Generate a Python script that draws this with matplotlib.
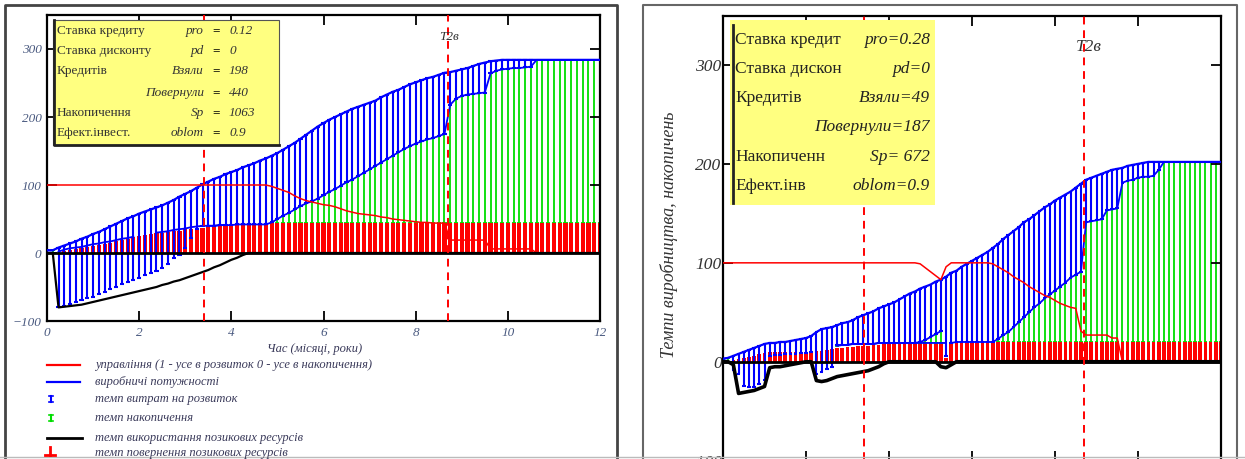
import numpy as np
import matplotlib
matplotlib.use("Agg")
import matplotlib.pyplot as plt
from matplotlib.patches import Rectangle
from matplotlib.lines import Line2D
from matplotlib.collections import LineCollection

plt.rcParams['font.family'] = ['Liberation Serif', 'DejaVu Serif']

W, H = 1245, 459

# time grid (step 1/8 of a unit), 0..12
t = np.arange(97) * 0.125
marks = [3.4, 8.7]
mark_label = "T2в"

# ---------------- left panel ----------------
u_left = [100, 100, 100, 100, 100, 100, 100, 100, 100, 100, 100, 100,
          100, 100, 100, 100, 100, 100, 100, 100, 100, 100, 100, 100,
          100, 100, 100, 100, 100, 100, 100, 100, 100, 100, 100, 100,
          100, 100, 100, 98, 95, 92, 89, 84, 80, 77, 75, 73,
          71, 70, 68, 65, 62, 60, 58, 57, 56, 55, 53, 52,
          50, 49, 48, 47, 46, 45, 45, 44, 44, 44, 19, 19,
          19, 19, 19, 19, 19, 6, 6, 6, 6, 6, 6, 6,
          6, 0, 0, 0, 0, 0, 0, 0, 0, 0, 0, 0,
          0]
cap_left = [4, 4, 8, 11, 14, 17, 21, 24, 28, 31, 35, 39,
            43, 47, 51, 54, 58, 61, 64, 67, 70, 74, 78, 83,
            87, 91, 96, 101, 105, 109, 112, 116, 119, 122, 126, 129,
            132, 136, 139, 143, 147, 152, 157, 162, 168, 174, 180, 186,
            191, 196, 200, 204, 208, 212, 215, 218, 221, 224, 229, 233,
            237, 240, 244, 248, 251, 254, 257, 259, 262, 265, 266, 268,
            270, 272, 275, 278, 280, 282, 283, 284, 284, 284, 284, 284,
            284, 284, 284, 284, 284, 284, 284, 284, 284, 284, 284, 284,
            284]
dev_left = [4, 4, -80, -78, -75, -72, -69, -66, -64, -61, -57, -53,
            -50, -46, -42, -39, -37, -33, -30, -26, -22, -16, -8, -3,
            8, 22, 36, 39, 40, 40, 41, 41, 41, 42, 42, 42,
            42, 42, 42, 45, 50, 55, 59, 64, 69, 73, 76, 80,
            85, 90, 94, 99, 104, 108, 113, 118, 123, 128, 133, 138,
            143, 148, 153, 157, 161, 164, 167, 169, 172, 175, 218, 227,
            231, 233, 234, 235, 236, 264, 268, 270, 271, 272, 272, 273,
            274, 284, 284, 284, 284, 284, 284, 284, 284, 284, 284, 284,
            284]
acc_left = [0, 0, 2, 5, 7, 8, 9, 11, 13, 14, 16, 17,
            19, 21, 22, 24, 25, 27, 28, 30, 31, 32, 34, 35,
            36, 38, 39, 40, 40, 40, 41, 41, 41, 42, 42, 42,
            42, 42, 42, 44, 44, 44, 44, 44, 44, 44, 44, 44,
            44, 44, 44, 44, 44, 44, 44, 44, 44, 44, 44, 44,
            44, 44, 44, 44, 44, 44, 44, 44, 44, 44, 44, 44,
            44, 44, 44, 44, 44, 44, 44, 44, 44, 44, 44, 44,
            44, 44, 44, 44, 44, 44, 44, 44, 44, 44, 44, 44,
            44]
borrow_left = [0, 0, -80, -79, -78, -77, -76, -74, -72, -70, -68, -66,
               -64, -62, -60, -58, -56, -54, -52, -50, -47, -45, -42, -40,
               -37, -34, -31, -28, -25, -21, -18, -14, -10, -7, -3, 0,
               0, 0, 0, 0, 0, 0, 0, 0, 0, 0, 0, 0,
               0, 0, 0, 0, 0, 0, 0, 0, 0, 0, 0, 0,
               0, 0, 0, 0, 0, 0, 0, 0, 0, 0, 0, 0,
               0, 0, 0, 0, 0, 0, 0, 0, 0, 0, 0, 0,
               0, 0, 0, 0, 0, 0, 0, 0, 0, 0, 0, 0,
               0]
repay_left = [0, 0, 0, 3, 5, 6, 7, 9, 10, 12, 13, 15,
              17, 19, 21, 23, 25, 26, 28, 29, 30, 31, 32, 33,
              35, 36, 37, 37, 38, 38, 39, 40, 41, 42, 43, 44,
              44, 44, 44, 44, 44, 44, 44, 44, 44, 44, 44, 44,
              44, 44, 44, 44, 44, 44, 44, 44, 44, 44, 44, 44,
              44, 44, 44, 44, 44, 44, 44, 44, 44, 44, 44, 44,
              44, 44, 44, 44, 44, 44, 44, 44, 44, 44, 44, 44,
              44, 44, 44, 44, 44, 44, 44, 44, 44, 44, 44, 44,
              44]

# ---------------- right panel ----------------
u_right = [100, 100, 100, 100, 100, 100, 100, 100, 100, 100, 100, 100,
           100, 100, 100, 100, 100, 100, 100, 100, 100, 100, 100, 100,
           100, 100, 100, 100, 100, 100, 100, 100, 100, 100, 100, 100,
           100, 100, 99, 95, 91, 87, 83, 96, 100, 100, 100, 100,
           100, 100, 100, 100, 99, 96, 93, 90, 86, 83, 80, 76,
           73, 70, 67, 65, 62, 59, 57, 55, 54, 31, 27, 27,
           27, 27, 27, 24, 24, 0, 0, 0, 0, 0, 0, 0,
           0, 0, 0, 0, 0, 0, 0, 0, 0, 0, 0, 0,
           0]
cap_right = [3, 4, 6, 8, 10, 12, 14, 16, 18, 19, 19, 20,
             20, 21, 22, 23, 24, 26, 30, 33, 34, 35, 37, 39,
             40, 42, 45, 47, 49, 51, 54, 56, 58, 60, 63, 66,
             69, 71, 74, 76, 78, 81, 83, 86, 90, 92, 96, 99,
             102, 105, 108, 111, 115, 119, 124, 128, 132, 136, 141, 144,
             148, 152, 156, 159, 163, 166, 169, 172, 176, 180, 184, 186,
             188, 190, 192, 194, 195, 196, 198, 199, 200, 201, 202, 202,
             202, 202, 202, 202, 202, 202, 202, 202, 202, 202, 202, 202,
             202]
dev_right = [3, 4, -8, -12, -24, -25, -25, -22, -18, 6, 7, 7,
             8, 8, 8, 9, 9, 10, -12, -10, -7, -5, 17, 17,
             17, 18, 18, 18, 18, 18, 19, 19, 19, 19, 19, 19,
             19, 19, 20, 22, 25, 28, 31, 6, 19, 20, 20, 20,
             20, 20, 20, 20, 20, 23, 27, 30, 35, 40, 45, 50,
             55, 59, 64, 68, 72, 76, 80, 85, 88, 91, 141, 142,
             143, 144, 153, 154, 155, 181, 183, 184, 186, 187, 187, 188,
             194, 202, 202, 202, 202, 202, 202, 202, 202, 202, 202, 202,
             202]
acc_right = [0, 0, 2, 3, 4, 5, 6, 8, 9, 10, 10, 10,
             10, 10, 10, 10, 10, 10, 11, 11, 12, 13, 16, 17,
             17, 18, 18, 18, 18, 18, 19, 19, 19, 19, 19, 19,
             19, 19, 19, 19, 19, 19, 19, 19, 19, 20, 20, 20,
             20, 20, 20, 20, 20, 20, 20, 20, 20, 20, 20, 20,
             20, 20, 20, 20, 20, 20, 20, 20, 20, 20, 20, 20,
             20, 20, 20, 20, 20, 20, 20, 20, 20, 20, 20, 20,
             20, 20, 20, 20, 20, 20, 20, 20, 20, 20, 20, 20,
             20]
borrow_right = [0, 0, -3, -32, -31, -30, -29, -27, -25, -6, -5, -5,
                -4, -3, -2, -1, 0, 0, -19, -20, -19, -17, -15, -14,
                -13, -12, -11, -10, -9, -7, -5, -2, 0, 0, 0, 0,
                0, 0, 0, 0, 0, 0, -5, -6, -3, 0, 0, 0,
                0, 0, 0, 0, 0, 0, 0, 0, 0, 0, 0, 0,
                0, 0, 0, 0, 0, 0, 0, 0, 0, 0, 0, 0,
                0, 0, 0, 0, 0, 0, 0, 0, 0, 0, 0, 0,
                0, 0, 0, 0, 0, 0, 0, 0, 0, 0, 0, 0,
                0]
repay_right = [0, 0, 2, 3, 4, 5, 6, 8, 9, 10, 10, 10,
               10, 10, 10, 10, 10, 10, 11, 11, 12, 13, 14, 14,
               15, 15, 16, 16, 16, 17, 17, 18, 18, 18, 18, 18,
               18, 18, 18, 18, 18, 18, 18, 4, 19, 20, 20, 20,
               20, 20, 20, 20, 20, 20, 20, 20, 20, 20, 20, 20,
               20, 20, 20, 20, 20, 20, 20, 20, 20, 20, 20, 20,
               20, 20, 20, 20, 20, 20, 20, 20, 20, 20, 20, 20,
               20, 20, 20, 20, 20, 20, 20, 20, 20, 20, 20, 20,
               20]

box_left = [("Ставка кредиту", "pro", "0.12"),
            ("Ставка дисконту", "pd", "0"),
            ("Кредитів", "Взяли", "198"),
            ("", "Повернули", "440"),
            ("Накопичення", "Sp", "1063"),
            ("Ефект.інвест.", "oblom", "0.9")]
box_right = [("Ставка кредит", "pro=0.28"),
             ("Ставка дискон", "pd=0"),
             ("Кредитів", "Взяли=49"),
             ("", "Повернули=187"),
             ("Накопиченн", "Sp= 672"),
             ("Ефект.інв", "oblom=0.9")]

legend_items = ["управління (1 - усе в розвиток 0 - усе в накопичення)",
                "виробничі потужності",
                "темп витрат на розвиток",
                "темп накопичення",
                "темп використання позикових ресурсів",
                "темп повернення позикових ресурсів"]

RED, BLUE, GREEN = "#ff0000", "#0000ff", "#00dd00"

fig = plt.figure(figsize=(W / 100, H / 100), dpi=100)


def fx(px):
    return px / W


def fy(py):
    return 1 - py / H


def ftext(px, py, s, **kw):
    fig.text(fx(px), fy(py), s, **kw)


def fline(xs, ys, **kw):
    fig.add_artist(Line2D([fx(v) for v in xs], [fy(v) for v in ys], **kw))


def stems(ax, top, bottom, color, z, cap=0.045, lw=1.4):
    segs = []
    for xi, a, b in zip(t, top, bottom):
        if a - b > 0.5:
            segs.append([(xi, b), (xi, a)])
            segs.append([(xi - cap, a), (xi + cap, a)])
            segs.append([(xi - cap, b), (xi + cap, b)])
    ax.add_collection(LineCollection(segs, colors=color, linewidths=lw, zorder=z))


def panel(rect, u, cap, dev, acc, borrow, repay, fs, blw, tcol, pad, xlabels=True):
    ax = fig.add_axes(rect)
    ax.set_xlim(0, 12)
    ax.set_ylim(-100, 350)
    dev_a, acc_a, rep_a = np.array(dev, float), np.array(acc, float), np.array(repay, float)
    stems(ax, dev, acc, GREEN, 1, lw=1.3)
    # bottom of the green bars, only where it rises above the red bars
    ax.plot(t, np.where(acc_a > rep_a + 0.5, acc_a, np.nan), color=BLUE, lw=1.3, zorder=2.5)
    ax.bar(t, repay, width=0.09, color=RED, linewidth=0, zorder=2)
    stems(ax, cap, dev, BLUE, 3, lw=1.5)
    # lower edge of the blue bars where it sits on the green ones
    ax.plot(t, np.where(dev_a >= acc_a, dev_a, np.nan), color=BLUE, lw=1.3, zorder=3)
    ax.plot(t, cap, color=BLUE, lw=1.6, zorder=4)
    ax.plot(t, u, color=RED, lw=1.1, zorder=4)
    ax.axhline(0, color="black", lw=2, zorder=4.5)
    ax.plot(t, borrow, color="black", lw=blw, zorder=5)
    for m in marks:
        ax.axvline(m, color=RED, lw=1.4, ls=(0, (4, 3)), zorder=6)
    ax.text(8.5, 318, mark_label, fontsize=fs, style="italic", color="#333333",
            va="center", ha="left", zorder=7)
    ax.set_xticks([0, 2, 4, 6, 8, 10, 12])
    ax.set_yticks([-100, 0, 100, 200, 300])
    ax.tick_params(direction="in", top=True, right=True, length=7, width=1.3,
                   labelsize=fs, labelcolor=tcol, pad=pad, labelbottom=xlabels)
    for lab in ax.get_xticklabels() + ax.get_yticklabels():
        lab.set_fontstyle("italic")
    for sp in ax.spines.values():
        sp.set_linewidth(1.6)
    return ax


# left chart
panel([fx(47), fy(321), (600 - 47) / W, (321 - 15) / H],
      u_left, cap_left, dev_left, acc_left, borrow_left, repay_left,
      9.5, 1.6, "#4a5a80", 4)

# right chart (its bottom edge falls just outside the picture)
panel([fx(723), fy(460.7), (1221 - 723) / W, (460.7 - 15.5) / H],
      u_right, cap_right, dev_right, acc_right, borrow_right, repay_right,
      12.5, 2.6, "#333333", 1, xlabels=False)

# outer frames
fline([5, 5, 617, 617], [459, 5, 5, 459], color="#444444", lw=2)
fline([643, 643, 1237, 1237], [459, 5, 5, 459], color="#666666", lw=1.5)
fline([0, 1245], [457, 457], color="#bbbbbb", lw=1)

# left text box
fig.add_artist(Rectangle((fx(53), fy(145)), (279 - 53) / W, (145 - 20) / H,
                         transform=fig.transFigure, facecolor="#ffff80",
                         edgecolor="#555555", lw=0.8, zorder=10))
fline([54, 54, 279], [20, 145, 145], color="#222222", lw=2, zorder=11)
rows_y = [31, 51, 71, 93, 113, 133]
for (lab, var, val), py in zip(box_left, rows_y):
    ftext(57, py, lab, fontsize=9.5, color="#333333", va="center", zorder=12)
    ftext(204, py, var, fontsize=9.5, style="italic", color="#333333",
          va="center", ha="right", zorder=12)
    ftext(216, py, "=", fontsize=9.5, weight="bold", color="black",
          va="center", ha="center", zorder=12)
    ftext(229, py, val, fontsize=9.5, style="italic", color="#333333",
          va="center", zorder=12)

# right text box
fig.add_artist(Rectangle((fx(730), fy(205)), (935 - 730) / W, (205 - 20) / H,
                         transform=fig.transFigure, facecolor="#ffff80",
                         edgecolor="none", zorder=10))
fline([733, 733], [25, 203], color="#222222", lw=2, zorder=11)
rows_y = [40, 69, 98, 127, 157, 186]
for (lab, expr), py in zip(box_right, rows_y):
    ftext(735, py, lab, fontsize=12.5, color="#222222", va="center", zorder=12)
    ftext(930, py, expr, fontsize=12.5, style="italic", color="#222222",
          va="center", ha="right", zorder=12)

# right y label
ftext(669, 235, "Темпи виробництва, накопичень", fontsize=13, style="italic",
      color="#333333", rotation=90, ha="center", va="center")

# left x label and legend
ftext(315, 349, "Час (місяці, роки)", fontsize=9, style="italic",
      color="#3a3a5a", ha="center", va="center")
leg_y = [365, 382, 399, 418, 438, 453]
for s, py in zip(legend_items, leg_y):
    ftext(95, py, s, fontsize=9, style="italic", color="#3a3a5a", va="center")
fline([47, 80], [leg_y[0], leg_y[0]], color=RED, lw=1.6)
fline([47, 80], [leg_y[1], leg_y[1]], color=BLUE, lw=1.6)
for col, py in [(BLUE, leg_y[2]), (GREEN, leg_y[3])]:
    fline([51, 51], [py - 3, py + 3], color=col, lw=1.5)
    fline([49, 53], [py - 3, py - 3], color=col, lw=1.2)
    fline([49, 53], [py + 3, py + 3], color=col, lw=1.2)
fline([47, 82], [leg_y[4], leg_y[4]], color="black", lw=2)
fline([50, 50], [leg_y[5] - 6, leg_y[5] + 2], color=RED, lw=2)
fline([45, 55], [leg_y[5] + 2, leg_y[5] + 2], color=RED, lw=2)

fig.savefig("out.png", dpi=100)
